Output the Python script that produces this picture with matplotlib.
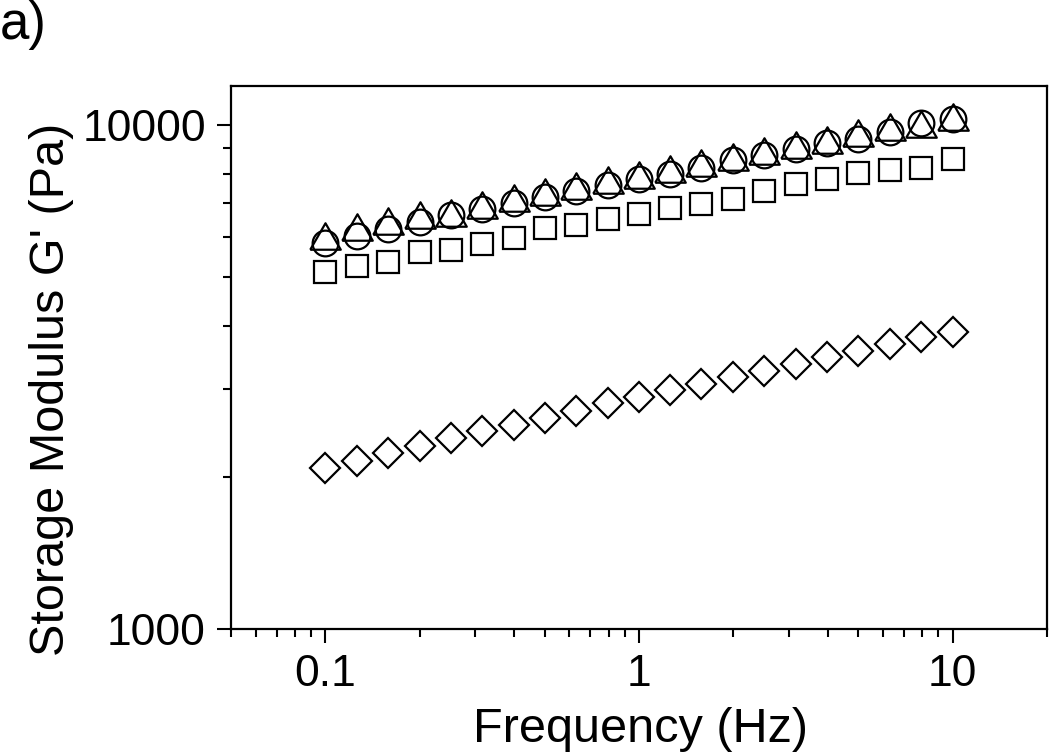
import matplotlib.pyplot as plt
import matplotlib.ticker as mticker
import numpy as np

plt.rcParams['font.family'] = ['Liberation Sans', 'DejaVu Sans']

# frequency sweep (Hz)
freq = [0.1, 0.126, 0.158, 0.2, 0.251, 0.316, 0.398, 0.501, 0.631, 0.794,
        1.0, 1.26, 1.58, 2.0, 2.51, 3.16, 3.98, 5.01, 6.31, 7.94, 10.0]

# storage modulus G' (Pa) for the four samples
g_square = [5116, 5258, 5355, 5590, 5649, 5814, 5960, 6246, 6333, 6500, 6659,
            6853, 6970, 7142, 7406, 7626, 7814, 8032, 8131, 8228, 8562]
g_circle = [5838, 6036, 6226, 6428, 6628, 6803, 7001, 7186, 7396, 7593, 7814,
            8006, 8228, 8521, 8719, 8961, 9199, 9393, 9699, 10078, 10264]
g_triangle = [6030, 6266, 6449, 6637, 6689, 6939, 7174, 7374, 7568, 7767, 7973,
              8190, 8407, 8633, 8899, 9114, 9359, 9627, 9895, 10060, 10387]
g_diamond = [2084, 2157, 2232, 2308, 2390, 2471, 2540, 2626, 2707, 2804, 2882,
             2980, 3063, 3157, 3254, 3351, 3460, 3566, 3672, 3792, 3891]

xticks = [0.1, 1, 10]
xticklabels = ['0.1', '1', '10']
yticks = [1000, 10000]
yticklabels = ['1000', '10000']

# equilateral triangle, width = markersize
tri_marker = [(-1, -0.866), (1, -0.866), (0, 0.866), (-1, -0.866)]

fig = plt.figure(figsize=(10.5, 7.54), dpi=100)
ax = fig.add_axes([0.22, 0.1658, 0.7771, 0.7201])

kw = dict(linestyle='none', mfc='none', mec='black', mew=1.6)
ax.plot(freq, g_square, marker='s', ms=16, **kw)
ax.plot(freq, g_circle, marker='o', ms=18.5, **kw)
ax.plot(freq, g_triangle, marker=tri_marker, ms=22, **kw)
ax.plot(freq, g_diamond, marker='D', ms=15.6, **kw)

ax.set_xscale('log')
ax.set_yscale('log')
ax.set_xlim(0.05, 20)
ax.set_ylim(1000, 11950)
ax.set_xticks(xticks, xticklabels)
ax.set_yticks(yticks, yticklabels)
ax.xaxis.set_minor_locator(mticker.LogLocator(subs=np.arange(2, 10), numticks=20))
ax.yaxis.set_minor_locator(mticker.LogLocator(subs=np.arange(2, 10), numticks=20))
ax.xaxis.set_minor_formatter(mticker.NullFormatter())
ax.yaxis.set_minor_formatter(mticker.NullFormatter())

ax.tick_params(which='both', direction='out', width=1.5, top=False, right=False,
               labelsize=32, color='black')
ax.tick_params(which='major', length=10, pad=8)
ax.tick_params(which='minor', length=5.5)
for s in ax.spines.values():
    s.set_linewidth(1.6)

fig.text(640 / 1050, 1 - 742 / 754, 'Frequency (Hz)', fontsize=35,
         ha='center', va='baseline')
fig.text(52 / 1050, 1 - 389 / 754, "Storage Modulus G' (Pa)", fontsize=35,
         ha='center', va='center', rotation=90)
fig.text(0.0, 1 - 39 / 754, 'a)', fontsize=38, ha='left', va='baseline')

plt.savefig('out.png', dpi=100)
plt.close()
